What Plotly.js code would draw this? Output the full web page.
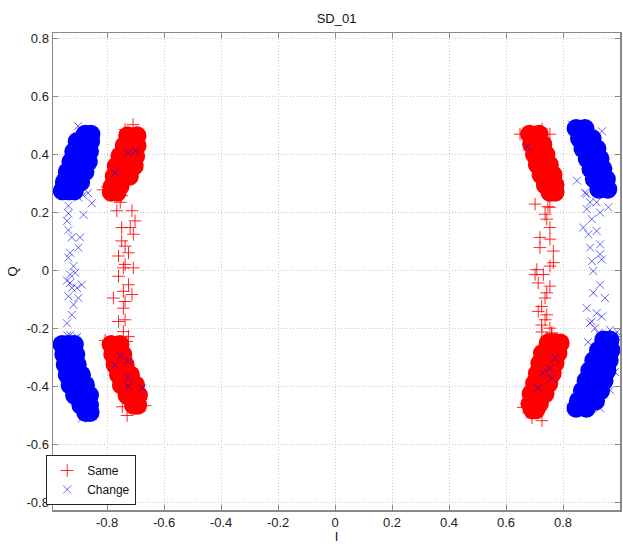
<!DOCTYPE html>
<html>
<head>
<meta charset="utf-8">
<script src="https://cdn.plot.ly/plotly-3.0.1.min.js"></script>
<style>html,body{margin:0;padding:0;background:#fff;}#chart{width:623px;height:544px;}</style>
</head>
<body>
<div id="chart"></div>
<script>
// ---- data: [I, Q] pairs ----
const chartTitle = "SD_01";
const seriesNames = ["Same", "Change"];
const xTicks = [-0.8, -0.6, -0.4, -0.2, 0, 0.2, 0.4, 0.6, 0.8, 1];
const yTicks = [-0.8, -0.6, -0.4, -0.2, 0, 0.2, 0.4, 0.6, 0.8];

// dense cores of the "Same" clusters
const sameDense = [
  // upper left
  [-0.728,0.465],[-0.695,0.465],
  [-0.74,0.43],[-0.718,0.43],[-0.695,0.43],
  [-0.755,0.395],[-0.727,0.395],[-0.70,0.395],
  [-0.768,0.36],[-0.737,0.36],[-0.705,0.36],
  [-0.775,0.325],[-0.75,0.325],[-0.722,0.325],
  [-0.782,0.29],[-0.755,0.29],
  [-0.785,0.27],[-0.765,0.27],
  // lower left
  [-0.786,-0.255],[-0.755,-0.255],
  [-0.78,-0.29],[-0.745,-0.29],
  [-0.772,-0.325],[-0.753,-0.325],[-0.737,-0.325],
  [-0.76,-0.36],[-0.74,-0.36],[-0.718,-0.36],
  [-0.75,-0.395],[-0.725,-0.395],[-0.70,-0.395],
  [-0.73,-0.43],[-0.71,-0.43],[-0.69,-0.43],
  [-0.707,-0.465],[-0.693,-0.465],
  // upper right
  [0.683,0.47],[0.716,0.47],
  [0.69,0.435],[0.71,0.435],[0.729,0.435],
  [0.70,0.40],[0.72,0.40],[0.74,0.40],
  [0.71,0.365],[0.73,0.365],[0.752,0.365],
  [0.723,0.33],[0.745,0.33],[0.765,0.33],
  [0.738,0.295],[0.772,0.295],
  [0.754,0.27],[0.772,0.27],
  // lower right
  [0.748,-0.25],[0.77,-0.25],[0.79,-0.25],
  [0.728,-0.285],[0.755,-0.285],[0.782,-0.285],
  [0.719,-0.32],[0.745,-0.32],[0.772,-0.32],
  [0.71,-0.355],[0.735,-0.355],[0.762,-0.355],
  [0.70,-0.39],[0.725,-0.39],[0.75,-0.39],
  [0.688,-0.425],[0.712,-0.425],[0.737,-0.425],
  [0.684,-0.46],[0.717,-0.46],
  [0.693,-0.48],[0.705,-0.48]
];

// dense cores of the "Change" clusters
const changeDense = [
  // upper left
  [-0.877,0.47],[-0.857,0.47],
  [-0.905,0.445],[-0.88,0.445],[-0.858,0.445],
  [-0.917,0.41],[-0.89,0.41],[-0.862,0.41],
  [-0.927,0.375],[-0.898,0.375],[-0.866,0.375],
  [-0.94,0.34],[-0.91,0.34],[-0.878,0.34],
  [-0.95,0.305],[-0.922,0.305],[-0.893,0.305],
  [-0.957,0.275],[-0.935,0.275],[-0.915,0.275],
  // lower left
  [-0.958,-0.255],[-0.937,-0.255],[-0.915,-0.255],
  [-0.952,-0.29],[-0.93,-0.29],[-0.91,-0.29],
  [-0.947,-0.325],[-0.925,-0.325],[-0.905,-0.325],
  [-0.94,-0.36],[-0.915,-0.36],[-0.89,-0.36],
  [-0.93,-0.395],[-0.903,-0.395],[-0.876,-0.395],
  [-0.914,-0.43],[-0.888,-0.43],[-0.862,-0.43],
  [-0.892,-0.465],[-0.862,-0.465],
  [-0.875,-0.49],[-0.86,-0.49],
  // upper right
  [0.846,0.49],[0.877,0.49],
  [0.858,0.455],[0.88,0.455],[0.902,0.455],
  [0.87,0.42],[0.895,0.42],[0.919,0.42],
  [0.885,0.385],[0.908,0.385],[0.93,0.385],
  [0.898,0.35],[0.92,0.35],[0.94,0.35],
  [0.91,0.315],[0.932,0.315],[0.952,0.315],
  [0.926,0.28],[0.957,0.28],
  // lower right
  [0.943,-0.24],[0.965,-0.24],
  [0.925,-0.275],[0.948,-0.275],[0.968,-0.275],
  [0.908,-0.31],[0.935,-0.31],[0.962,-0.31],
  [0.894,-0.345],[0.922,-0.345],[0.954,-0.345],
  [0.881,-0.38],[0.91,-0.38],[0.944,-0.38],
  [0.868,-0.415],[0.898,-0.415],[0.932,-0.415],
  [0.854,-0.45],[0.885,-0.45],[0.914,-0.45],
  [0.846,-0.475],[0.882,-0.475]
];

// individual "Same" points (between and around the clusters)
const sameSparse = [
  [-0.749,0.258],[-0.754,0.235],[-0.766,0.206],[-0.713,0.206],[-0.702,0.171],
  [-0.749,0.148],[-0.719,0.148],[-0.708,0.125],[-0.749,0.102],[-0.737,0.084],
  [-0.760,0.050],[-0.725,0.061],[-0.737,0.021],[-0.708,0.009],[-0.743,0.009],
  [-0.760,-0.020],[-0.725,-0.049],[-0.743,-0.072],[-0.778,-0.095],[-0.713,-0.083],
  [-0.737,-0.107],[-0.743,-0.130],[-0.760,-0.176],[-0.737,-0.170],[-0.743,-0.211],
  [-0.725,-0.228],[-0.731,-0.245],
  [-0.709,0.503],[-0.737,0.486],[-0.80,0.288],[-0.814,0.278],
  [-0.807,-0.241],[-0.747,-0.47],[-0.73,-0.50],[-0.667,-0.466],
  [0.702,0.229],[0.754,0.218],[0.737,0.194],[0.743,0.177],[0.754,0.148],
  [0.719,0.114],[0.754,0.108],[0.719,0.079],[0.766,0.067],[0.766,0.027],
  [0.754,0.015],[0.708,0.003],[0.702,-0.014],[0.731,-0.014],[0.713,-0.043],
  [0.754,-0.054],[0.743,-0.077],[0.737,-0.095],[0.725,-0.124],[0.713,-0.141],
  [0.743,-0.153],[0.737,-0.170],[0.725,-0.188],[0.754,-0.199],[0.760,-0.216],
  [0.726,0.488],[0.754,0.47],[0.649,0.47],[0.747,0.22],
  [0.761,-0.216],[0.726,-0.212],[0.691,-0.508],[0.726,-0.518],[0.66,-0.472]
];

// individual "Change" points (between and around the clusters)
const changeSparse = [
  [-0.901,0.252],[-0.854,0.232],[-0.936,0.223],[-0.936,0.197],[-0.883,0.192],
  [-0.941,0.171],[-0.936,0.139],[-0.924,0.114],[-0.895,0.114],[-0.901,0.079],
  [-0.930,0.061],[-0.936,0.044],[-0.918,0.015],[-0.930,-0.014],[-0.912,-0.008],
  [-0.941,-0.035],[-0.930,-0.043],[-0.889,-0.049],[-0.924,-0.060],[-0.906,-0.060],
  [-0.936,-0.089],[-0.901,-0.095],[-0.918,-0.118],[-0.924,-0.153],[-0.941,-0.182],
  [-0.930,-0.222],[-0.912,-0.234],
  [-0.902,0.498],[-0.867,0.267],[-0.884,0.26],[-0.99,0.267],
  [-0.94,-0.224],[-0.905,-0.229],[-0.842,-0.493],[-0.888,-0.51],[-0.867,-0.50],
  [-0.772,0.337],[-0.726,0.406],[-0.70,0.413],
  [-0.772,-0.326],[-0.754,-0.295],[-0.726,-0.313],[-0.726,-0.368],[-0.726,-0.399],[-0.677,-0.406],
  [0.883,0.264],[0.895,0.235],[0.918,0.235],[0.883,0.212],[0.930,0.200],
  [0.959,0.218],[0.901,0.177],[0.871,0.148],[0.889,0.125],[0.918,0.136],
  [0.895,0.079],[0.930,0.090],[0.930,0.056],[0.901,0.032],[0.936,0.038],
  [0.906,-0.002],[0.930,-0.049],[0.906,-0.077],[0.947,-0.095],[0.883,-0.130],
  [0.918,-0.147],[0.936,-0.159],[0.901,-0.176],[0.912,-0.199],[0.924,-0.216],
  [0.965,-0.205],
  [0.849,0.31],[0.877,0.268],[0.937,0.48],[0.832,0.503],
  [0.895,-0.181],[0.99,-0.212],[0.993,-0.233],[0.825,-0.472],[0.93,-0.475],
  [0.965,-0.413],[0.982,-0.35],[0.888,-0.247],
  [0.674,0.427],
  [0.772,-0.302],[0.754,-0.337],[0.73,-0.354],[0.761,-0.372],[0.712,-0.406]
];

const RED = "#ff0000", BLUE = "#0000ff";
const font = "Liberation Sans, Arial, sans-serif";

const col = (arr, i) => arr.map(p => p[i]);

const traces = [
  { type: "scatter", mode: "markers", name: seriesNames[0], legendgroup: "same", showlegend: false,
    x: col(sameDense, 0), y: col(sameDense, 1), hoverinfo: "skip",
    marker: { symbol: "circle", size: 19, color: RED, line: { width: 0 } } },
  { type: "scatter", mode: "markers", name: seriesNames[1], legendgroup: "change", showlegend: false,
    x: col(changeDense, 0), y: col(changeDense, 1), hoverinfo: "skip",
    marker: { symbol: "circle", size: 19, color: BLUE, line: { width: 0 } } },
  { type: "scatter", mode: "markers", name: seriesNames[0], legendgroup: "same",
    x: col(sameSparse, 0), y: col(sameSparse, 1),
    marker: { symbol: "cross-thin", size: 9, color: RED, line: { width: 1, color: "rgba(255,0,0,0.85)" } } },
  { type: "scatter", mode: "markers", name: seriesNames[1], legendgroup: "change",
    x: col(changeSparse, 0), y: col(changeSparse, 1),
    marker: { symbol: "x-thin", size: 8, color: BLUE, line: { width: 1, color: "rgba(0,0,255,0.6)" } } }
];

const axisCommon = {
  showline: true, linecolor: "#8a8a8a", linewidth: 1.5, mirror: "ticks",
  ticks: "inside", ticklen: 5, tickcolor: "#8a8a8a", tickwidth: 1,
  showgrid: true, gridcolor: "#c8c8c8", griddash: "1px,2px", gridwidth: 1,
  zeroline: false, tickfont: { family: font, size: 13, color: "#222" }
};

const layout = {
  width: 623, height: 544,
  margin: { l: 53, r: 3, t: 33, b: 34 },
  paper_bgcolor: "#fff", plot_bgcolor: "#fff",
  title: { text: chartTitle, font: { family: font, size: 13, color: "#111" },
           x: 0.5, xref: "paper", y: 1 - 18 / 544, yref: "container", yanchor: "middle" },
  xaxis: Object.assign({}, axisCommon, {
    range: [-0.99, 1.0], tickvals: xTicks, ticktext: xTicks.map(String),
    title: { text: "I", font: { family: font, size: 13, color: "#111" }, standoff: 4 }
  }),
  yaxis: Object.assign({}, axisCommon, {
    range: [-0.826, 0.819], tickvals: yTicks, ticktext: yTicks.map(String),
    title: { text: "Q", font: { family: font, size: 13, color: "#111" }, standoff: 6 }
  }),
  legend: {
    x: -0.012, y: 0.0105, xanchor: "left", yanchor: "bottom",
    bgcolor: "#fff", bordercolor: "#222", borderwidth: 1,
    font: { family: font, size: 12, color: "#111" }, tracegroupgap: 0,
    entrywidth: 82, entrywidthmode: "pixels"
  },
  showlegend: true
};

Plotly.newPlot("chart", traces, layout, { displayModeBar: false, staticPlot: true });
</script>
</body>
</html>
